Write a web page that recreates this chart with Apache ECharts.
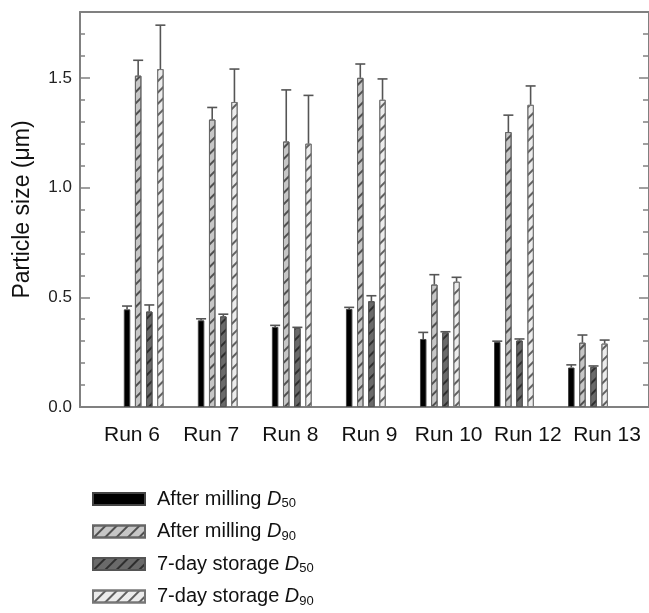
<!DOCTYPE html>
<html>
<head>
<meta charset="utf-8">
<script src="https://cdn.jsdelivr.net/npm/echarts@6/dist/echarts.min.js"></script>
<style>
html,body{margin:0;padding:0;background:#fff;}
#chart{width:649px;height:613px;}
#err{position:absolute;left:360px;top:470px;width:289px;font:9px monospace;color:red;white-space:pre-wrap;}
</style>
</head>
<body>
<div id="chart"></div>
<div id="err"></div>
<script>
const categories = ['Run 6', 'Run 7', 'Run 8', 'Run 9', 'Run 10', 'Run 12', 'Run 13'];
const milledD50 = [0.445, 0.395, 0.365, 0.447, 0.31, 0.296, 0.18];
const milledD50Err = [0.015, 0.007, 0.007, 0.007, 0.03, 0.004, 0.012];
const milledD90 = [1.51, 1.31, 1.21, 1.50, 0.558, 1.253, 0.293];
const milledD90Err = [0.07, 0.055, 0.235, 0.063, 0.045, 0.077, 0.035];
const storedD50 = [0.435, 0.413, 0.36, 0.482, 0.34, 0.303, 0.183];
const storedD50Err = [0.03, 0.01, 0.003, 0.025, 0.003, 0.007, 0.004];
const storedD90 = [1.54, 1.39, 1.20, 1.40, 0.571, 1.377, 0.289];
const storedD90Err = [0.20, 0.15, 0.22, 0.095, 0.02, 0.086, 0.016];
const seriesNames = ['After milling D50', 'After milling D90', '7-day storage D50', '7-day storage D90'];
const legendLabels = [
  '{a|After milling }{i|D}{s|50}',
  '{a|After milling }{i|D}{s|90}',
  '{a|7-day storage }{i|D}{s|50}',
  '{a|7-day storage }{i|D}{s|90}'
];

const FONT = 'Liberation Sans, Arial, sans-serif';
const AXIS_COLOR = '#808080';
const BAR_W = 6.5;
const BAR_GAP = 0.71;
const PITCH = BAR_W * (1 + BAR_GAP);

function log(s) { document.getElementById('err').textContent += s + '\n'; }

function hatch(color) {
  return {
    symbol: 'rect', symbolSize: 1,
    dashArrayX: [1, 0], dashArrayY: [1.2, 5.2],
    rotation: -Math.PI / 4, color: color
  };
}

const styles = [
  { color: '#000000', borderColor: '#444', decal: null },
  { color: '#c6c6c6', borderColor: '#666', decal: hatch('#505050') },
  { color: '#6a6a6a', borderColor: '#555', decal: hatch('#2e2e2e') },
  { color: '#ececec', borderColor: '#777', decal: hatch('#606060') }
];
const values = [milledD50, milledD90, storedD50, storedD90];
const errors = [milledD50Err, milledD90Err, storedD50Err, storedD90Err];

const chart = echarts.init(document.getElementById('chart'), null, { renderer: 'canvas' });

const series = [];
values.forEach(function (vals, i) {
  const item = { color: styles[i].color, borderColor: styles[i].borderColor, borderWidth: 1 };
  if (styles[i].decal) item.decal = styles[i].decal;
  series.push({
    name: seriesNames[i], type: 'bar', xAxisIndex: 2, yAxisIndex: 4,
    barWidth: BAR_W, barGap: (BAR_GAP * 100) + '%',
    itemStyle: item, data: vals, z: 2
  });
});
values.forEach(function (vals, i) {
  series.push({
    type: 'custom', xAxisIndex: 2, yAxisIndex: 4, z: 5, silent: true,
    data: vals.map(function (v, k) { return [k, v, errors[i][k]]; }),
    renderItem: function (params, api) {
      const k = api.value(0), v = api.value(1), e = api.value(2);
      const p0 = api.coord([k, v]);
      const p1 = api.coord([k, v + e]);
      const x = p0[0] + (i - 1.5) * PITCH;
      const st = { stroke: '#555', lineWidth: 1.6 };
      return {
        type: 'group',
        children: [
          { type: 'line', shape: { x1: x, y1: p0[1], x2: x, y2: p1[1] }, style: st },
          { type: 'line', shape: { x1: x - 5, y1: p1[1], x2: x + 5, y2: p1[1] }, style: st }
        ]
      };
    }
  });
});

const gridTop = 12, gridBottom = 206;
function hiddenY(g) {
  return { gridIndex: g, type: 'value', min: 0, max: 1.8,
    axisLine: { show: false }, axisTick: { show: false }, axisLabel: { show: false }, splitLine: { show: false } };
}
const frameLine = { show: true, onZero: false, lineStyle: { color: AXIS_COLOR, width: 2 } };

try {
chart.setOption({
  animation: false,
  backgroundColor: '#fff',
  textStyle: { fontFamily: FONT },
  grid: [
    { left: 80, right: -3, top: gridTop, bottom: gridBottom },
    { left: 106.7, right: 24, top: gridTop, bottom: gridBottom },
    { left: 92.4, right: 2.4, top: gridTop, bottom: gridBottom }
  ],
  xAxis: [
    { gridIndex: 0, type: 'value', min: 0, max: 1, position: 'bottom',
      axisLine: frameLine,
      axisTick: { show: false }, axisLabel: { show: false }, splitLine: { show: false } },
    { gridIndex: 0, type: 'value', min: 0, max: 1, position: 'top',
      axisLine: frameLine,
      axisTick: { show: false }, axisLabel: { show: false }, splitLine: { show: false } },
    { gridIndex: 1, type: 'category', data: categories,
      axisLine: { show: false }, axisTick: { show: false }, axisLabel: { show: false } },
    { gridIndex: 2, type: 'category', data: categories,
      axisLine: { show: false }, axisTick: { show: false },
      axisLabel: { show: true, interval: 0, fontSize: 21, color: '#111', margin: 18, fontFamily: FONT } }
  ],
  yAxis: [
    { gridIndex: 0, type: 'value', min: 0, max: 1.8, interval: 0.1, position: 'left',
      name: 'Particle size (\u03bcm)', nameLocation: 'middle', nameGap: 46,
      nameTextStyle: { fontSize: 23, color: '#111', fontFamily: FONT },
      axisLine: frameLine,
      axisTick: { show: true, inside: true, length: 5, lineStyle: { color: AXIS_COLOR, width: 1.5 } },
      axisLabel: { show: true, fontSize: 17, color: '#222', margin: 8, fontFamily: FONT,
        formatter: function (v) {
          return Math.abs(v * 2 - Math.round(v * 2)) < 1e-6 ? v.toFixed(1) : '';
        } },
      splitLine: { show: false } },
    { gridIndex: 0, type: 'value', min: 0, max: 1.8, interval: 0.5, position: 'left',
      axisLine: { show: false, onZero: false },
      axisTick: { show: true, inside: true, length: 10, lineStyle: { color: AXIS_COLOR, width: 1.5 } },
      axisLabel: { show: false }, splitLine: { show: false } },
    { gridIndex: 0, type: 'value', min: 0, max: 1.8, interval: 0.1, position: 'right',
      axisLine: frameLine,
      axisTick: { show: true, inside: true, length: 6, lineStyle: { color: AXIS_COLOR, width: 1.5 } },
      axisLabel: { show: false }, splitLine: { show: false } },
    { gridIndex: 0, type: 'value', min: 0, max: 1.8, interval: 0.5, position: 'right',
      axisLine: { show: false, onZero: false },
      axisTick: { show: true, inside: true, length: 10, lineStyle: { color: AXIS_COLOR, width: 1.5 } },
      axisLabel: { show: false }, splitLine: { show: false } },
    hiddenY(1),
    hiddenY(2)
  ],
  legend: {
    orient: 'vertical', left: 92, top: 489, padding: 0,
    itemWidth: 52, itemHeight: 12, itemGap: 11.5,
    icon: 'rect',
    data: seriesNames,
    formatter: function (name) { return legendLabels[seriesNames.indexOf(name)]; },
    textStyle: {
      fontFamily: FONT, color: '#111', padding: [0, 0, 0, 7],
      rich: {
        a: { fontSize: 20, color: '#111', fontFamily: FONT, lineHeight: 22 },
        i: { fontSize: 20, color: '#111', fontStyle: 'italic', fontFamily: FONT, lineHeight: 22 },
        s: { fontSize: 13, color: '#111', fontFamily: FONT, verticalAlign: 'bottom', lineHeight: 22, padding: [8, 0, 0, 0] }
      }
    }
  },
  series: series
});
} catch (e) { log('FAIL: ' + e.message); }
</script>
</body>
</html>
